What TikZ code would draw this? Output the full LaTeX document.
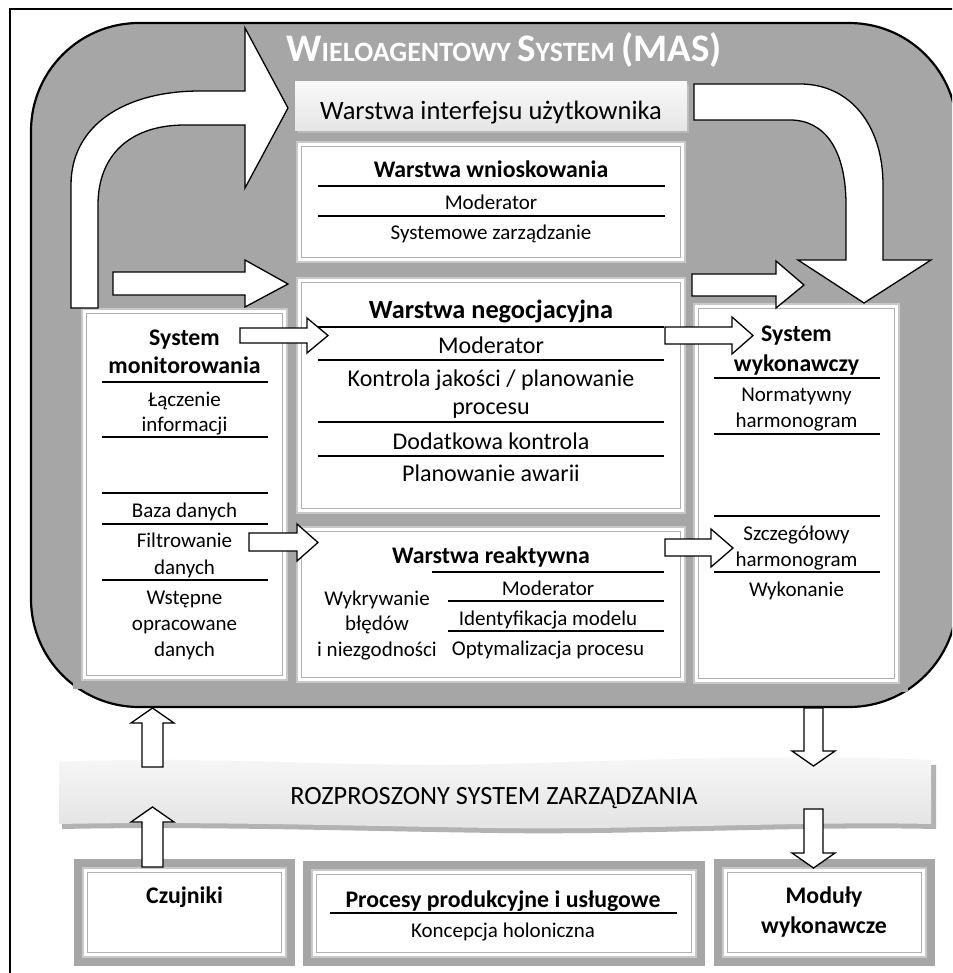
\documentclass[tikz,border=0pt]{standalone}
\usepackage{fontspec}
\setmainfont{Carlito}
\usetikzlibrary{calc}
\definecolor{masgray}{HTML}{A6A6A6}
\definecolor{framelight}{HTML}{C8C8C8}
\definecolor{frameline}{HTML}{B0B0B0}

% thick gray band behind a panel
\newcommand\panelband[4]{%
  \fill[masgray] (#1-9,#2-9) rectangle (#3+9,#4+9);}
% white panel with a double gray border
\newcommand\panelframe[5]{%
  \node[panel, minimum width={#4-#2}, minimum height={#5-#3}] (#1)
    at ({(#2+#4)/2},{(#3+#5)/2}) {};
  \draw[panelinner] ([shift={(4.5,4.5)}]#1.north west)
    rectangle ([shift={(-4.5,-4.5)}]#1.south east);}

\begin{document}
\begin{tikzpicture}[x=1pt,y=-1pt,
  panel/.style={draw=framelight, fill=white, line width=2pt, inner sep=0pt, outer sep=0pt},
  panelinner/.style={draw=frameline, line width=1.2pt},
  blockarrow/.style={fill=white, draw=black, line width=1.3pt, line join=miter},
  rulebar/.style={line width=1.8pt},
  tA/.style={anchor=base, inner sep=0pt, font=\fontsize{21}{25}\selectfont},
  tB/.style={anchor=base, inner sep=0pt, font=\fontsize{24}{28}\selectfont},
  tC/.style={anchor=base, inner sep=0pt, font=\bfseries\fontsize{23.8}{28}\selectfont},
  tD/.style={anchor=base, inner sep=0pt, font=\bfseries\fontsize{26.3}{30}\selectfont},
  tE/.style={anchor=base, inner sep=0pt, font=\fontsize{26.5}{30}\selectfont},
]
\useasboundingbox (0,0) rectangle (952,973);
\clip (0,0) rectangle (952,973);
\fill[white] (0,0) rectangle (952,973);

% outer frame
\draw[line width=1.5pt] (10,9) rectangle (990,1000);

% multi-agent system area
\draw[fill=masgray, line width=2.2pt, rounded corners=108pt] (31,23) rectangle (957,707);

% title in small capitals
\node[anchor=base, inner sep=0pt, text=white, font=\bfseries] (title) at (504,62)
  {\fontsize{39}{40}\selectfont W\fontsize{28}{30}\selectfont IELOAGENTOWY
   \fontsize{39}{40}\selectfont S\fontsize{28}{30}\selectfont YSTEM
   \fontsize{39}{40}\selectfont (MAS)};

% bands behind panels
\panelband{297}{142}{685}{262}
\panelband{297}{278}{685}{513}
\panelband{297}{527}{685}{682}
\panelband{82}{309}{287}{680}
\panelband{694}{304}{899}{683}
\panelband{83}{868}{286}{957}
\panelband{312}{870}{696}{957}
\panelband{723}{868}{926}{957}

% panels
\panelframe{wnio}{297}{142}{685}{262}
\panelframe{nego}{297}{278}{685}{513}
\panelframe{reak}{297}{527}{685}{682}
\panelframe{mon}{82}{309}{287}{680}
\panelframe{wyk}{694}{304}{899}{683}
\panelframe{czuj}{83}{868}{286}{957}
\panelframe{proc}{312}{870}{696}{957}
\panelframe{modw}{723}{868}{926}{957}

% user interface layer
\fill[gray!55] (298,85) rectangle (689,133);
\node[inner sep=0pt, outer sep=0pt, minimum width=392pt, minimum height=49pt,
  top color=gray!5, bottom color=gray!20] (iface) at (491,106.5) {};
\node[tE] (iface-t) at (491,120) {Warstwa interfejsu użytkownika};

% distributed management banner
\fill[gray!60] (62,767) .. controls (200,760) and (350,773) .. (499,769)
  .. controls (640,765) and (800,759) .. (936,765) -- (936,829)
  .. controls (800,826) and (640,835) .. (499,833)
  .. controls (350,831) and (200,826) .. (62,829) -- cycle;
\path[top color=gray!6, bottom color=gray!22]
  (59,762) .. controls (200,755) and (350,768) .. (496,764)
  .. controls (640,760) and (800,754) .. (931,760) -- (931,824)
  .. controls (800,821) and (640,830) .. (496,828)
  .. controls (350,826) and (200,821) .. (59,824) -- cycle;
\node[anchor=base, inner sep=0pt, font=\fontsize{26.3}{30}\selectfont] (rsz) at (494,804)
  {ROZPROSZONY SYSTEM ZARZĄDZANIA};

% inference layer
\node[tC] (wnio-t) at (491,178) {Warstwa wnioskowania};
\draw[rulebar] (318,186) -- (665,186);
\node[tA] (wnio-1) at (491,210) {Moderator};
\draw[rulebar] (318,216) -- (665,216);
\node[tA] (wnio-2) at (491,240) {Systemowe zarządzanie};

% negotiation layer
\node[tD] (nego-t) at (491,318) {Warstwa negocjacyjna};
\draw[rulebar] (318,327) -- (664,327);
\node[tB] (nego-1) at (491,353) {Moderator};
\draw[rulebar] (318,360) -- (664,360);
\node[tB] (nego-2) at (491,386) {Kontrola jakości / planowanie};
\node[tB] (nego-2b) at (491,414) {procesu};
\draw[rulebar] (318,422) -- (664,422);
\node[tB] (nego-3) at (491,449) {Dodatkowa kontrola};
\draw[rulebar] (318,456) -- (664,456);
\node[tB] (nego-4) at (491,481) {Planowanie awarii};

% reactive layer
\node[tC] (reak-t) at (491,563) {Warstwa reaktywna};
\draw[rulebar] (432,572) -- (664,572);
\node[tA] (reak-1) at (548,595) {Moderator};
\draw[rulebar] (448,601) -- (664,601);
\node[tA] (reak-2) at (548,625) {Identyfikacja modelu};
\draw[rulebar] (448,631) -- (664,631);
\node[tA] (reak-3) at (548,655) {Optymalizacja procesu};
\node[tA] (reak-w1) at (377,605) {Wykrywanie};
\node[tA] (reak-w2) at (377,630) {błędów};
\node[tA] (reak-w3) at (377,656) {i niezgodności};

% monitoring system
\node[tC] (mon-t1) at (184.5,345) {System};
\node[tC] (mon-t2) at (184.5,373) {monitorowania};
\draw[rulebar] (102,382) -- (268,382);
\node[tA] (mon-1a) at (184.5,406) {Łączenie};
\node[tA] (mon-1b) at (184.5,431) {informacji};
\draw[rulebar] (102,437) -- (268,437);
\draw[rulebar] (102,493) -- (268,493);
\node[tA] (mon-2) at (184.5,517) {Baza danych};
\draw[rulebar] (102,524) -- (268,524);
\node[tA] (mon-3a) at (184.5,547) {Filtrowanie};
\node[tA] (mon-3b) at (184.5,574) {danych};
\draw[rulebar] (102,580) -- (268,580);
\node[tA] (mon-4a) at (184.5,604) {Wstępne};
\node[tA] (mon-4b) at (184.5,630) {opracowane};
\node[tA] (mon-4c) at (184.5,656) {danych};

% execution system
\node[tC] (wyk-t1) at (796.5,341) {System};
\node[tC] (wyk-t2) at (796.5,371) {wykonawczy};
\draw[rulebar] (714,378) -- (880,378);
\node[tA] (wyk-1a) at (796.5,401) {Normatywny};
\node[tA] (wyk-1b) at (796.5,427) {harmonogram};
\draw[rulebar] (714,434) -- (880,434);
\draw[rulebar] (714,516) -- (880,516);
\node[tA] (wyk-2a) at (796.5,540) {Szczegółowy};
\node[tA] (wyk-2b) at (796.5,566) {harmonogram};
\draw[rulebar] (714,572) -- (880,572);
\node[tA] (wyk-3) at (796.5,596) {Wykonanie};

% bottom row
\node[tC] (czuj-t) at (184.5,903) {Czujniki};
\node[tC] (proc-t) at (503,907) {Procesy produkcyjne i usługowe};
\draw[rulebar] (330,913) -- (677,913);
\node[tA] (proc-1) at (503,937) {Koncepcja holoniczna};
\node[tC] (modw-t1) at (824,903) {Moduły};
\node[tC] (modw-t2) at (824,933) {wykonawcze};

% bent arrow: monitoring up to the interface layer
\draw[blockarrow] (71,308) -- (71,185) .. controls (71,125) and (125,91) .. (200,91)
  -- (245,91) -- (245,28) -- (288,108) -- (245,188) -- (245,125) -- (185,125)
  .. controls (130,125) and (98,155) .. (98,205) -- (98,308) -- cycle;
% bent arrow: interface layer down to the execution system
\draw[blockarrow] (694,84) -- (800,84) .. controls (850,84) and (883,125) .. (883,185)
  -- (883,260) -- (931,260) -- (864,303) -- (798,260) -- (846,260) -- (846,205)
  .. controls (846,150) and (825,120) .. (790,120) -- (694,120) -- cycle;

% straight arrows pointing right
\draw[blockarrow] (113,272) -- (245,272) -- (245,260) -- (288,284) -- (245,307) -- (245,295) -- (113,295) -- cycle;
\draw[blockarrow] (692,274) -- (776,274) -- (776,261) -- (804,285) -- (776,308) -- (776,296) -- (692,296) -- cycle;
\draw[blockarrow] (240,328) -- (307,328) -- (307,318) -- (328,335.5) -- (307,353) -- (307,343) -- (240,343) -- cycle;
\draw[blockarrow] (665,327) -- (732,327) -- (732,317) -- (753,335.5) -- (732,354) -- (732,344) -- (665,344) -- cycle;
\draw[blockarrow] (249,533) -- (297,533) -- (297,524) -- (318,542.5) -- (297,561) -- (297,551) -- (249,551) -- cycle;
\draw[blockarrow] (665,539) -- (711,539) -- (711,529) -- (733,548) -- (711,567) -- (711,556) -- (665,556) -- cycle;

% vertical arrows through the banner
\draw[blockarrow] (142,767) -- (142,723) -- (131,723) -- (152.5,708) -- (174,723) -- (163,723) -- (163,767) -- cycle;
\draw[blockarrow] (142,867) -- (142,822) -- (131,822) -- (152.5,807) -- (174,822) -- (163,822) -- (163,867) -- cycle;
\draw[blockarrow] (804,708) -- (804,751) -- (792,751) -- (813.5,766) -- (835,751) -- (823,751) -- (823,708) -- cycle;
\draw[blockarrow] (804,809) -- (804,853) -- (792,853) -- (813.5,868) -- (835,853) -- (823,853) -- (823,809) -- cycle;
\end{tikzpicture}
\end{document}
